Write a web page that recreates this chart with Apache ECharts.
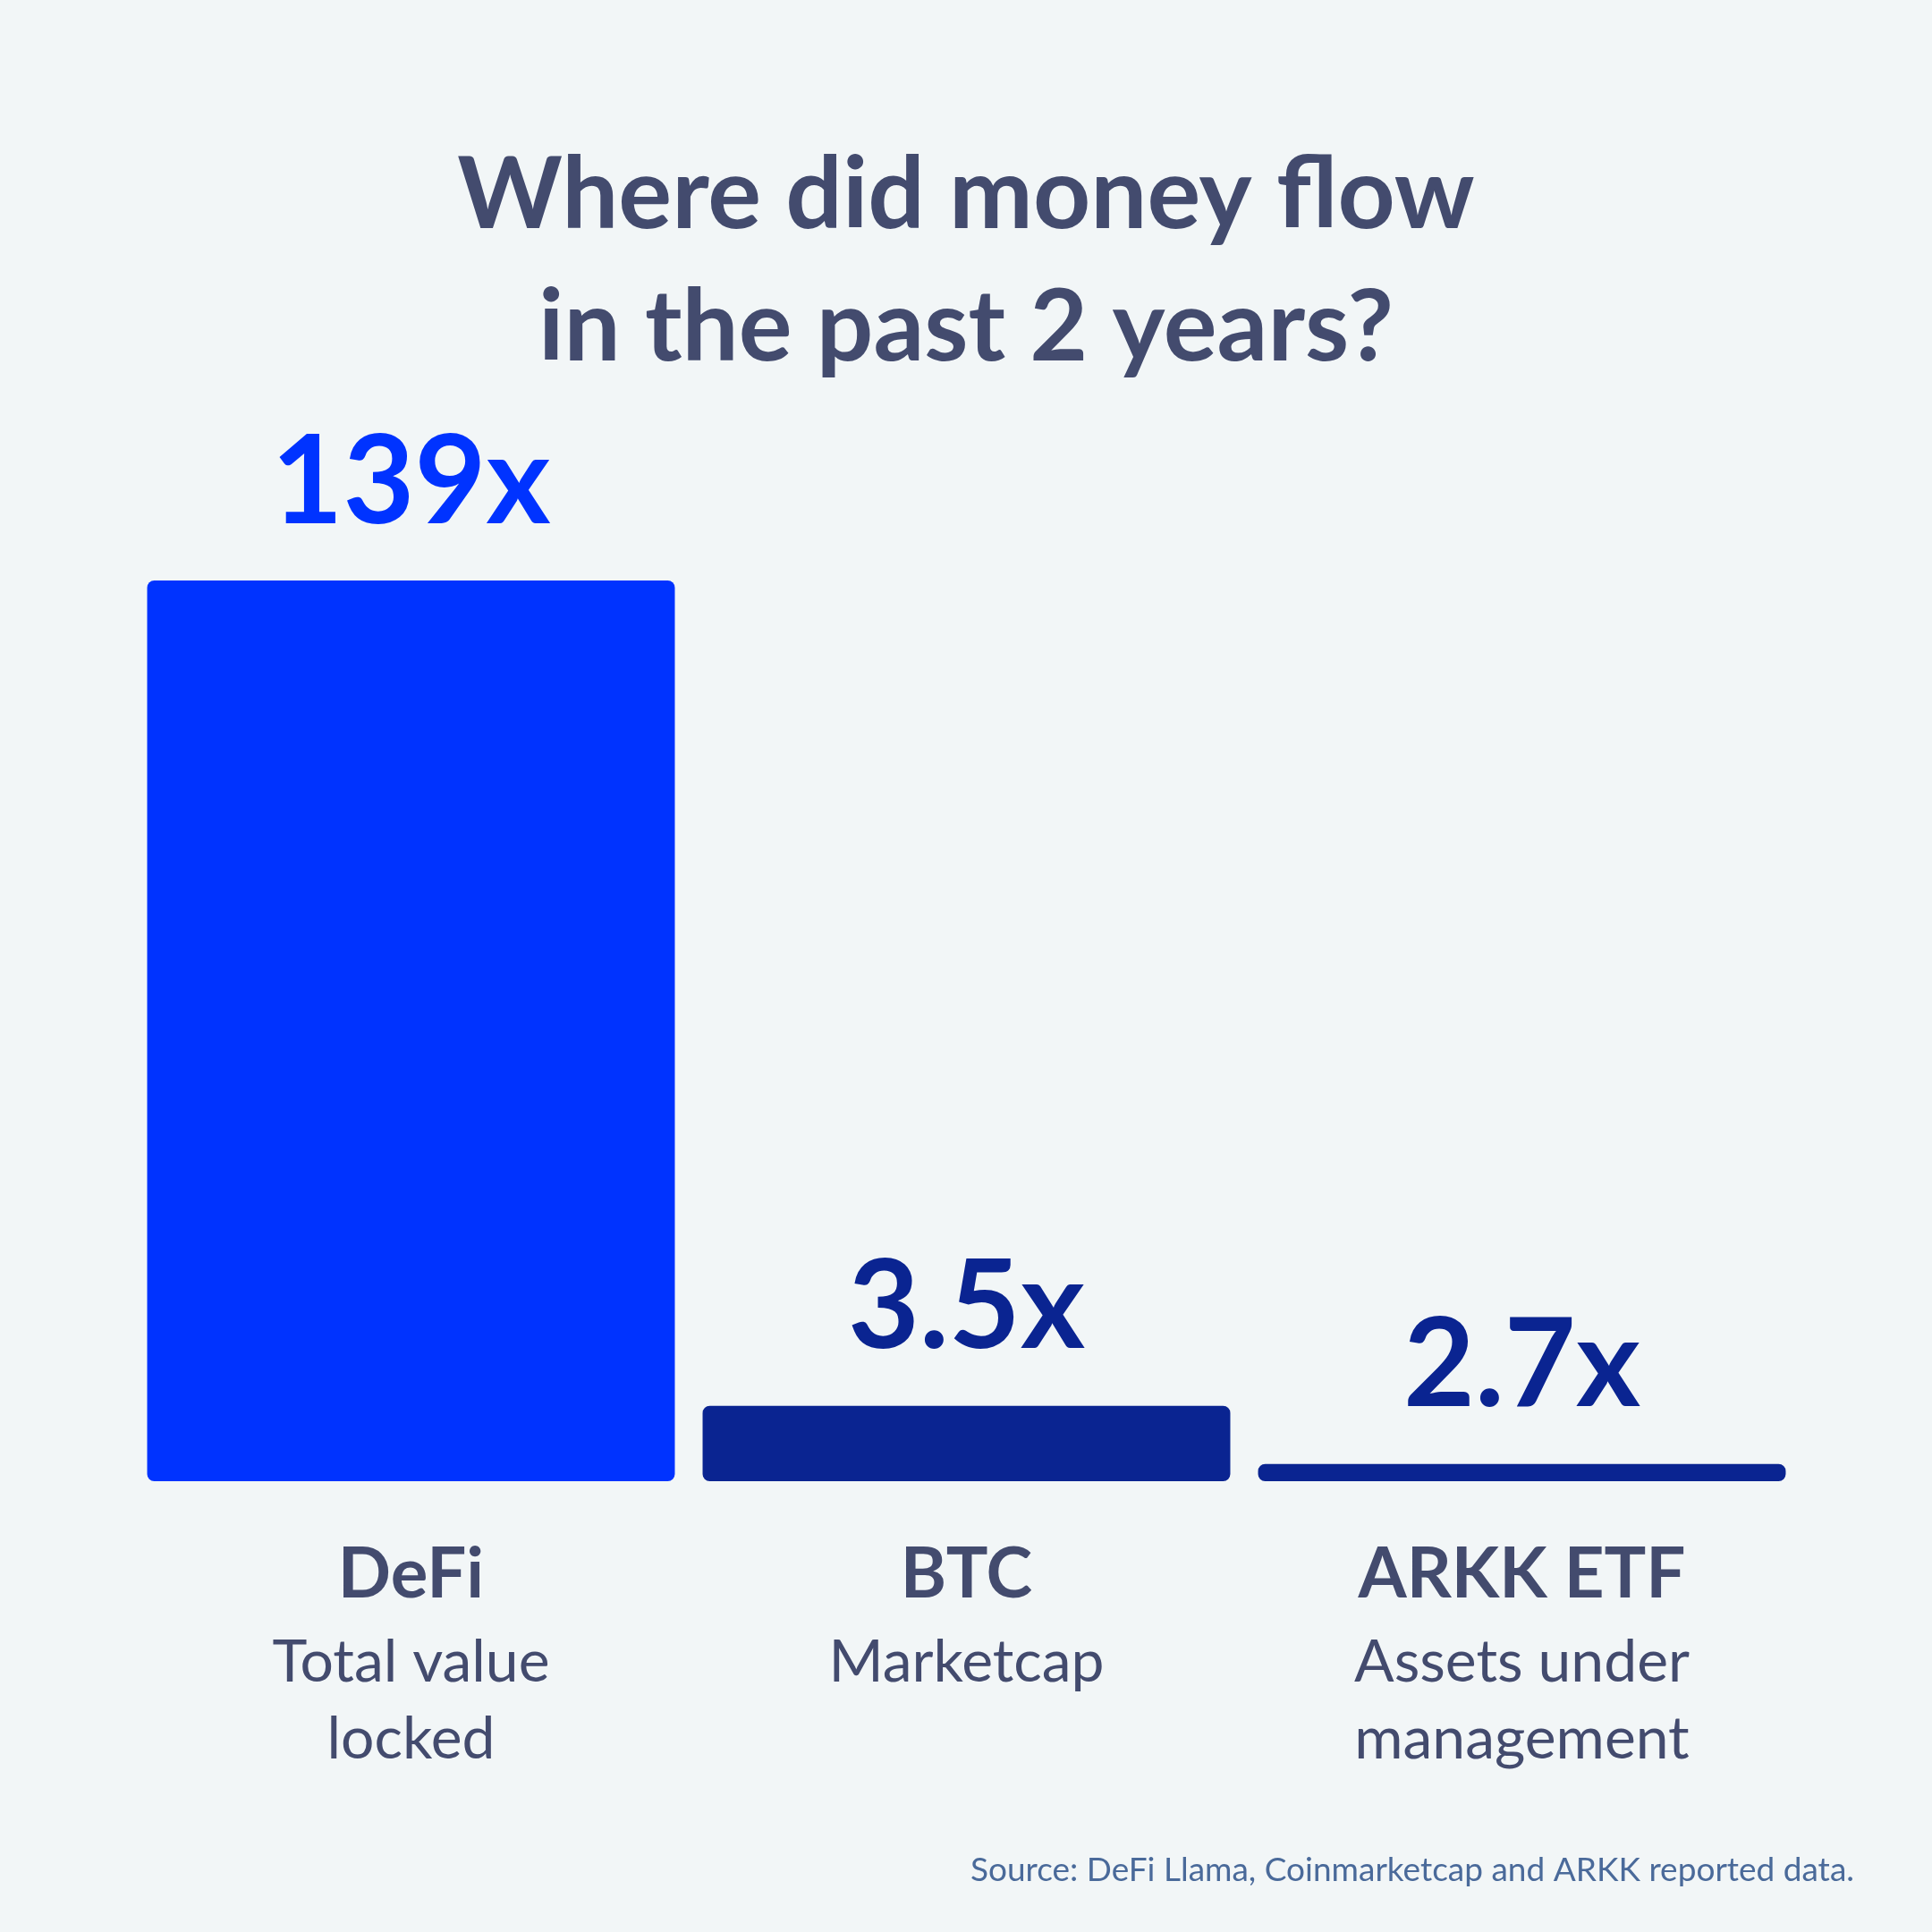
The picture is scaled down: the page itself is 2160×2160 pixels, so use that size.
<!DOCTYPE html>
<html lang="en">
<head>
  <meta charset="UTF-8">
  <title>Where did money flow</title>
  <script src="https://cdn.jsdelivr.net/npm/echarts@6/dist/echarts.min.js"></script>
  <style>body{margin:0;background:#f2f6f7}</style>
</head>
<body>
  <div id="chart" style="width:2160px;height:2160px;"></div>
  <script>
    var names = ['DeFi', 'BTC', 'ARKK ETF']
    var subtitles = ['Total value\nlocked', 'Marketcap', 'Assets under\nmanagement']
    var growth = [139, 3.5, 2.7]
    var colors = ['#0033ff', '#0a2491', '#0a2491']

    var chart = echarts.init(document.getElementById('chart'))
    var option = {
      backgroundColor: '#f2f6f7',
      textStyle: { fontFamily: 'Lato' },
      title: [{
        text: 'Where did money flow\nin the past 2 years?',
        left: 'center', top: 140,
        textStyle: { fontSize: 112, fontWeight: 'bold', color: '#434b6e', lineHeight: 148, fontFamily: 'Lato' }
      }, {
        text: 'Source: DeFi Llama, Coinmarketcap and ARKK reported data.',
        right: 82, top: 2068,
        textStyle: { fontSize: 37, fontWeight: 'normal', color: '#4a6a9a', fontFamily: 'Lato' }
      }],
      grid: { left: 149, right: 148, top: 649, bottom: 504 },
      xAxis: {
        type: 'category',
        data: names,
        axisLine: { show: false },
        axisTick: { show: false },
        axisLabel: {
          margin: 50,
          formatter: function (v, i) {
            return '{n|' + v + '}\n{s|' + subtitles[i] + '}'
          },
          rich: {
            n: { fontSize: 78, fontWeight: 'bold', color: '#434b6e', lineHeight: 110, fontFamily: 'Lato' },
            s: { fontSize: 66, color: '#434b6e', lineHeight: 86, fontFamily: 'Lato' }
          }
        }
      },
      yAxis: {
        type: 'log',
        min: 2.5,
        max: 139,
        show: false,
        splitLine: { show: false }
      },
      series: [{
        type: 'bar',
        barCategoryGap: '5%',
        data: growth.map(function (v, i) {
          return {
            value: v,
            itemStyle: { color: colors[i], borderRadius: 8 },
            label: { color: colors[i] }
          }
        }),
        label: {
          show: true,
          position: 'top',
          distance: 40,
          fontSize: 138,
          fontWeight: 'bold',
          fontFamily: 'Lato',
          formatter: function (p) { return p.value + 'x' }
        }
      }]
    }
    chart.setOption(option)
  </script>
</body>
</html>
